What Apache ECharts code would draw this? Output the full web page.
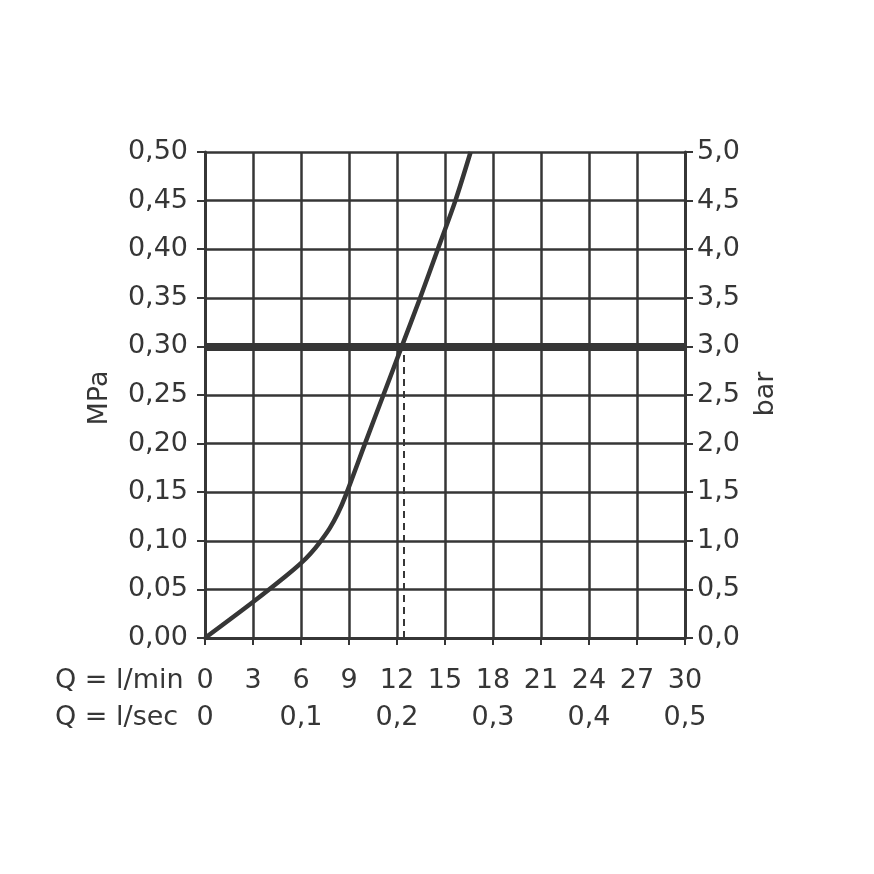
<!DOCTYPE html>
<html>
<head>
<meta charset="utf-8">
<script src="https://cdn.jsdelivr.net/npm/echarts@6/dist/echarts.min.js"></script>
<style>
html,body{margin:0;padding:0;background:#fff;}
#chart{width:874px;height:874px;}
</style>
</head>
<body>
<div id="chart"></div>
<script>
// Flow (l/min) vs pressure (MPa)
const flowLpm = [0, 3, 5, 6, 6.6, 7.2, 7.8, 8.3, 8.8, 10.0, 11.15, 12.3, 13.45, 14.55, 15.65, 16.6];
const pressureMPa = [0, 0.037, 0.063, 0.077, 0.087, 0.099, 0.113, 0.128, 0.147, 0.20, 0.25, 0.30, 0.35, 0.40, 0.45, 0.50];
const refPressure = 0.30;
const refFlow = 12.4;
const lminTicks = [0, 3, 6, 9, 12, 15, 18, 21, 24, 27, 30];
const lsecTicks = [0, 0.1, 0.2, 0.3, 0.4, 0.5];
const xLabelTitles = ['Q = l/min', 'Q = l/sec'];
const yNames = ['MPa', 'bar'];

const C = '#363636';
const FONT = '"DejaVu Sans"';
const fs = 27;
const comma = v => String(v).replace('.', ',');

const chart = echarts.init(document.getElementById('chart'));
chart.setOption({
  animation: false,
  backgroundColor: '#fff',
  grid: {left: 205, right: 189, top: 152, bottom: 236},
  xAxis: [{
    type: 'value', min: 0, max: 30, interval: 3, position: 'bottom',
    axisLine: {show: true, onZero: false, lineStyle: {color: C, width: 3}},
    axisTick: {show: true, length: 7, lineStyle: {color: C, width: 2}},
    splitLine: {show: true, lineStyle: {color: C, width: 2.5}},
    axisLabel: {color: C, fontSize: fs, fontFamily: FONT, margin: 29,
      formatter: v => lminTicks.includes(v) ? String(v) : ''}
  }, {
    type: 'value', min: 0, max: 0.5, interval: 0.1, position: 'bottom', offset: 37,
    axisLine: {show: false}, axisTick: {show: false}, splitLine: {show: false},
    axisLabel: {color: C, fontSize: fs, fontFamily: FONT, margin: 29,
      formatter: v => {
        const t = lsecTicks.find(x => Math.abs(x - v) < 1e-6);
        return t === undefined ? '' : comma(t);
      }}
  }],
  yAxis: [{
    type: 'value', min: 0, max: 0.5, interval: 0.05, position: 'left',
    axisLine: {show: true, onZero: false, lineStyle: {color: C, width: 3}},
    axisTick: {show: true, length: 8, lineStyle: {color: C, width: 2}},
    splitLine: {show: true, lineStyle: {color: C, width: 2.5}},
    axisLabel: {color: C, fontSize: fs, fontFamily: FONT, margin: 17,
      formatter: v => v.toFixed(2).replace('.', ',')}
  }, {
    type: 'value', min: 0, max: 5, interval: 0.5, position: 'right',
    axisLine: {show: true, onZero: false, lineStyle: {color: C, width: 3}},
    axisTick: {show: true, length: 8, lineStyle: {color: C, width: 2}},
    splitLine: {show: false},
    axisLabel: {color: C, fontSize: fs, fontFamily: FONT, margin: 12,
      formatter: v => v.toFixed(1).replace('.', ',')}
  }],
  graphic: [
    {type: 'text', x: 55, y: 681, style: {text: xLabelTitles[0], fill: C, font: fs + 'px ' + FONT, verticalAlign: 'middle'}},
    {type: 'text', x: 55, y: 718, style: {text: xLabelTitles[1], fill: C, font: fs + 'px ' + FONT, verticalAlign: 'middle'}},
    {type: 'text', x: 100, y: 398, rotation: Math.PI / 2,
      style: {text: yNames[0], fill: C, font: fs + 'px ' + FONT, align: 'center', verticalAlign: 'middle'}},
    {type: 'text', x: 766, y: 394, rotation: Math.PI / 2,
      style: {text: yNames[1], fill: C, font: fs + 'px ' + FONT, align: 'center', verticalAlign: 'middle'}}
  ],
  series: [{
    type: 'line', xAxisIndex: 0, yAxisIndex: 0,
    data: flowLpm.map((x, i) => [x, pressureMPa[i]]),
    smooth: 0.3, symbol: 'none',
    lineStyle: {color: C, width: 4.5},
    z: 5,
    markLine: {
      silent: true, symbol: ['none', 'none'], label: {show: false},
      data: [
        {yAxis: refPressure, lineStyle: {color: C, width: 8, type: 'solid'}},
        [{coord: [refFlow, 0], lineStyle: {color: C, width: 2, type: [7, 5]}},
         {coord: [refFlow, refPressure]}]
      ]
    }
  }]
});
</script>
</body>
</html>
